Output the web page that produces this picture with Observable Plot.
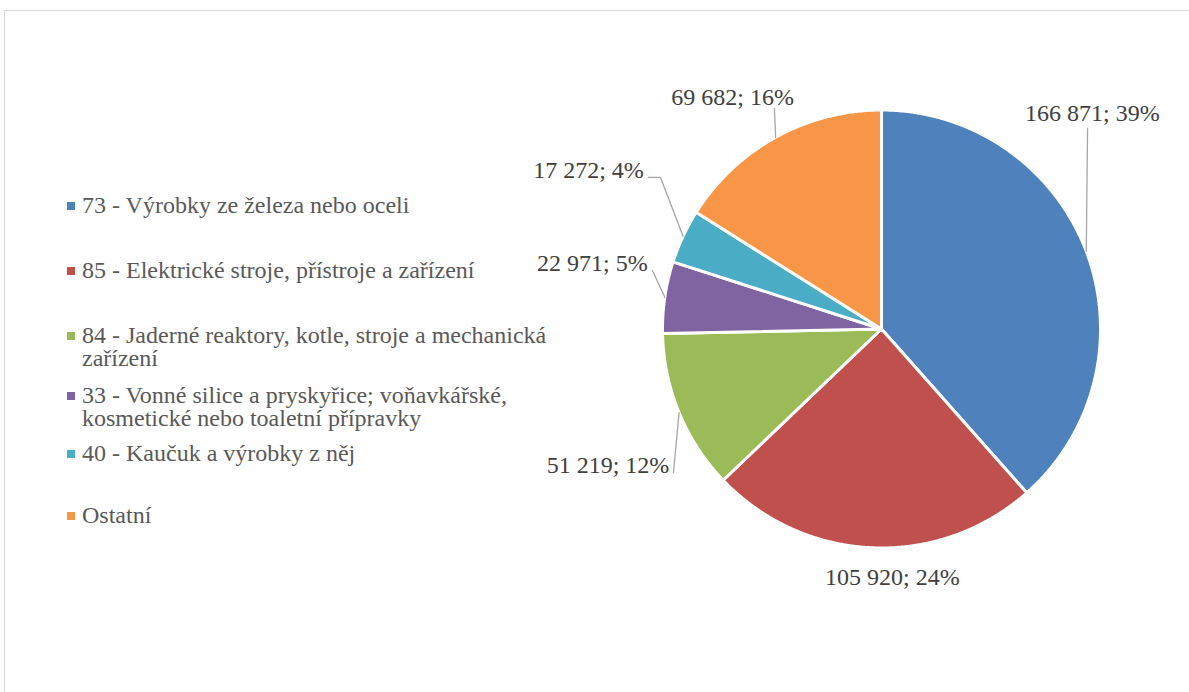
<!DOCTYPE html>
<html>
<head>
<meta charset="utf-8">
<script src="https://cdn.jsdelivr.net/npm/d3@7"></script>
<script src="https://cdn.jsdelivr.net/npm/@observablehq/plot@0.6"></script>
<style>
  html, body { margin: 0; padding: 0; background: #fff; }
  #wrap { position: relative; width: 1189px; height: 692px; overflow: hidden; background: #fff; }
  #frame { position: absolute; left: 4px; top: 10px; width: 1300px; height: 800px;
           border-left: 1px solid #d9d9d9; border-top: 1px solid #d9d9d9; }
  #chart { position: absolute; left: 0; top: 0; }
  #legend { position: absolute; left: 0; top: 0; font-family: "Liberation Serif", "Times New Roman", serif;
            font-size: 24px; line-height: 23px; color: #595959; }
  .item { position: absolute; left: 67px; display: flex; align-items: flex-start; }
  .sw { width: 8px; height: 8px; margin-top: 8px; margin-right: 7px; flex: none; }
  .lab { width: 472px; }
</style>
</head>
<body>
<div id="wrap">
  <div id="frame"></div>
  <div id="chart"></div>
  <div id="legend"></div>
</div>
<script>
// ---- data ----
const categories = [
  "73 - Výrobky ze železa nebo oceli",
  "85 - Elektrické stroje, přístroje a zařízení",
  "84 - Jaderné reaktory, kotle, stroje a mechanická zařízení",
  "33 - Vonné silice a pryskyřice; voňavkářské, kosmetické nebo toaletní přípravky",
  "40 - Kaučuk a výrobky z něj",
  "Ostatní"
];
const values = [166871, 105920, 51219, 22971, 17272, 69682];
const percents = [39, 24, 12, 5, 4, 16];
const colors = ["#4F81BD", "#C0504D", "#9BBB59", "#8064A2", "#4BACC6", "#F79646"];

// ---- layout (unit circle coordinates, radius = 1) ----
const labelPos = [[0.963, 0.984], [0.050, -1.135], [-1.249, -0.623], [-1.320, 0.299], [-1.338, 0.724], [-0.680, 1.057]];
const leaderPts = [[[0.941, 0.916]], null, [[-0.950, -0.655]], [[-1.046, 0.267]], [[-1.064, 0.692], [-1.009, 0.692]], [[-0.489, 1.007]]];
const legendTops = [193.5, 258.5, 323.5, 383.5, 441.5, 503.5];
const cx = 881, cy = 328.5, R = 219;

// ---- geometry from d3.pie ----
const arcs = d3.pie().sort(null).value(d => d)(values);
const slicePts = [];
arcs.forEach((a, i) => {
  slicePts.push({cat: categories[i], x: 0, y: 0});
  const n = Math.max(4, Math.ceil((a.endAngle - a.startAngle) / 0.005));
  for (let k = 0; k <= n; k++) {
    const t = a.startAngle + (a.endAngle - a.startAngle) * k / n;
    slicePts.push({cat: categories[i], x: Math.sin(t), y: Math.cos(t)});
  }
});

const fmt = v => String(v).replace(/\B(?=(\d{3})+(?!\d))/g, " ");
const labels = values.map((v, i) => ({x: labelPos[i][0], y: labelPos[i][1], text: `${fmt(v)}; ${percents[i]}%`}));

const leaders = [];
arcs.forEach((a, i) => {
  if (!leaderPts[i]) return;
  const mid = (a.startAngle + a.endAngle) / 2;
  leaderPts[i].forEach(p => leaders.push({id: i, x: p[0], y: p[1]}));
  leaders.push({id: i, x: Math.sin(mid), y: Math.cos(mid)});
});

const plot = Plot.plot({
  width: 1189,
  height: 692,
  margin: 0,
  style: {background: "transparent"},
  x: {axis: null, domain: [-1, 1], range: [cx - R, cx + R]},
  y: {axis: null, domain: [-1, 1], range: [cy + R, cy - R]},
  color: {domain: categories, range: colors},
  marks: [
    Plot.line(slicePts, {x: "x", y: "y", z: "cat", fill: "cat", stroke: "white", strokeWidth: 3, curve: "linear-closed", strokeLinejoin: "round"}),
    Plot.line(leaders, {x: "x", y: "y", z: "id", stroke: "#a6a6a6", strokeWidth: 1.3}),
    Plot.text(labels, {x: "x", y: "y", text: "text", fill: "#404040", fontSize: 24, fontFamily: "Liberation Serif, Times New Roman, serif"})
  ]
});
document.getElementById("chart").appendChild(plot);

const leg = document.getElementById("legend");
categories.forEach((c, i) => {
  const it = document.createElement("div");
  it.className = "item";
  it.style.top = legendTops[i] + "px";
  const sw = document.createElement("span");
  sw.className = "sw";
  sw.style.background = colors[i];
  const lb = document.createElement("span");
  lb.className = "lab";
  lb.textContent = c;
  it.appendChild(sw);
  it.appendChild(lb);
  leg.appendChild(it);
});
</script>
</body>
</html>
